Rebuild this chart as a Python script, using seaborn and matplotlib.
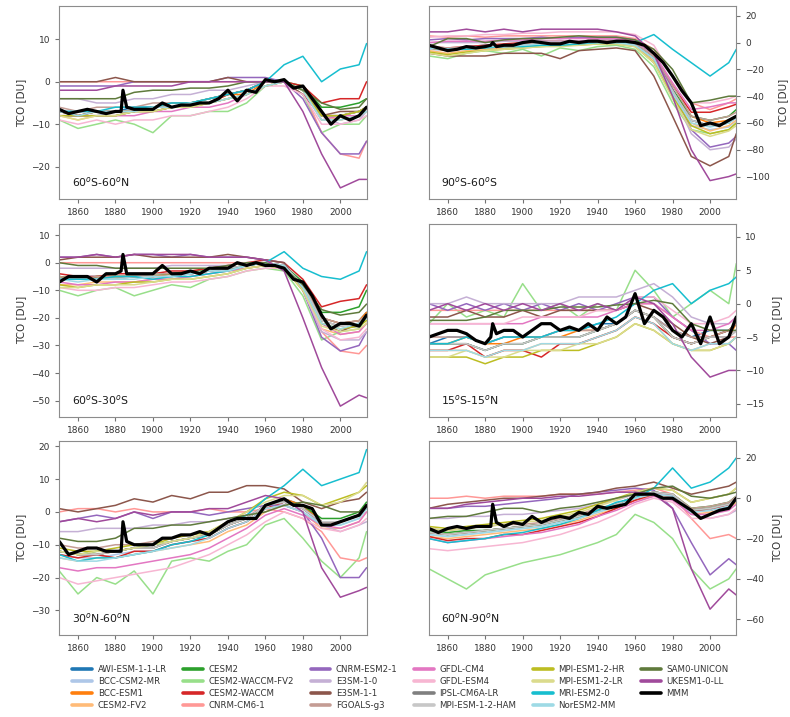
import matplotlib
matplotlib.use("Agg")
import matplotlib.pyplot as plt
import matplotlib.lines as mlines
import seaborn as sns
import pandas as pd

# model names, in legend order
models = ["AWI-ESM-1-1-LR", "BCC-CSM2-MR", "BCC-ESM1", "CESM2-FV2", "CESM2",
          "CESM2-WACCM-FV2", "CESM2-WACCM", "CNRM-CM6-1", "CNRM-ESM2-1", "E3SM-1-0",
          "E3SM-1-1", "FGOALS-g3", "GFDL-CM4", "GFDL-ESM4", "IPSL-CM6A-LR",
          "MPI-ESM-1-2-HAM", "MPI-ESM1-2-HR", "MPI-ESM1-2-LR", "MRI-ESM2-0", "NorESM2-MM",
          "SAM0-UNICON", "UKESM1-0-LL"]

years = [1850, 1860, 1870, 1880, 1890, 1900, 1910, 1920, 1930,
         1940, 1950, 1960, 1970, 1980, 1990, 2000, 2010, 2014]
# the multi model mean was read on a finer grid
mmm_years = [1850, 1855, 1860, 1865, 1870, 1875, 1880, 1883, 1884, 1886,
             1890, 1895, 1900, 1905, 1910, 1915, 1920, 1925, 1930, 1935,
             1940, 1945, 1950, 1955, 1960, 1965, 1970, 1975, 1980, 1985,
             1990, 1995, 2000, 2005, 2010, 2014]

regions = ["60$^o$S-60$^o$N", "90$^o$S-60$^o$S", "60$^o$S-30$^o$S",
           "15$^o$S-15$^o$N", "30$^o$N-60$^o$N", "60$^o$N-90$^o$N"]

# 60S-60N, one row per model
tco_60s60n = [
    [-7, -7, -7, -7, -6, -6, -5, -5, -4, -3, -2, 0, 0, -2, -8, -8, -7, -6],
    [-8, -8, -8, -7, -7, -6, -6, -5, -5, -4, -3, 0, 0, -2, -9, -9, -8, -7],
    [-7, -8, -7, -7, -7, -6, -5, -5, -5, -3, -3, 0, 0, -2, -8, -8, -7, -6],
    [-8, -9, -8, -8, -7, -7, -6, -6, -5, -4, -3, -1, 0, -2, -8, -9, -8, -6],
    [-7, -8, -7, -7, -7, -6, -6, -5, -4, -3, -2, 0, 0, -1, -6, -6, -5, -4],
    [-9, -11, -10, -9, -10, -12, -8, -8, -7, -7, -5, -1, 0, -3, -12, -10, -10, -8],
    [-7, -8, -7, -7, -7, -6, -6, -5, -5, -3, -2, 0, 0, -1, -5, -4, -4, 0],
    [0, 0, 0, 0, 0, 0, 0, 0, 0, 0, 0, 0, 0, -2, -12, -17, -18, -14],
    [-1, -1, -1, -1, 0, 0, 0, 0, 0, 1, 1, 1, 0, -4, -12, -17, -17, -14],
    [-4, -4, -5, -5, -4, -4, -3, -3, -2, -2, -1, 0, 0, -2, -8, -10, -9, -7],
    [0, 0, 0, 1, 0, 0, 0, 0, 0, 1, 0, 0, 0, -3, -8, -7, -7, -6],
    [-6, -7, -6, -6, -6, -5, -5, -5, -4, -3, -2, 0, 0, -2, -8, -8, -7, -6],
    [-8, -8, -8, -8, -8, -7, -7, -6, -6, -5, -3, -1, 0, -2, -9, -8, -8, -6],
    [-9, -10, -9, -10, -9, -9, -8, -8, -7, -6, -4, -1, -1, -3, -10, -10, -9, -8],
    [-8, -8, -8, -8, -7, -7, -6, -5, -5, -4, -3, -1, 0, -2, -8, -8, -7, -6],
    [-7, -7, -7, -7, -7, -6, -6, -5, -5, -4, -3, -1, 0, -2, -8, -8, -7, -6],
    [-8, -8, -8, -8, -7, -7, -6, -6, -5, -4, -3, -1, 0, -2, -8, -8, -7, -6],
    [-8, -9, -8, -8, -7, -7, -6, -6, -5, -4, -3, -1, 0, -2, -9, -9, -8, -7],
    [-7, -7, -7, -6, -6, -6, -5, -5, -4, -3, -2, 0, 4, 6, 0, 3, 4, 9],
    [-7, -8, -7, -7, -7, -6, -6, -5, -5, -4, -3, -1, 0, -2, -9, -9, -8, -7],
    [-4, -4, -4, -4, -2.5, -2, -2, -1.5, -1.5, -1, 0, 0, 0, -2, -5, -6.5, -6, -4],
    [-2, -2, -2, -1, -1, -1, -1, 0, 0, 0, 0, 0, 0, -7, -17, -25, -23, -23],
]
mmm_60s60n = [-6.5, -7.5, -7, -6.5, -7, -7.5, -7, -7, -2, -6, -6.5, -6.5, -6.5, -5, -6, -5.5,
              -5.5, -5, -5, -4, -2, -4.5, -2, -2.5, 0.5, 0, 0.5, -1.5, -1, -4, -7, -10,
              -8, -9, -8, -6]

# 90S-60S
tco_90s60s = [
    [-3, -5, -3, -2, -2, 0, 1, 0, 1, 1, 2, 0, -10, -35, -58, -62, -60, -55],
    [-5, -6, -5, -4, -3, -2, -1, -1, 0, 0, 0, -2, -15, -40, -62, -65, -63, -58],
    [-4, -6, -4, -3, -2, -1, 0, 0, 0, 1, 1, -1, -12, -36, -55, -60, -58, -55],
    [-6, -8, -6, -5, -4, -3, -2, -2, -1, 0, 0, -2, -14, -38, -60, -66, -62, -58],
    [-4, -5, -4, -3, -2, -1, 0, 0, 0, 1, 1, -1, -12, -35, -55, -58, -55, -50],
    [-10, -12, -8, -6, -8, -5, -10, -4, -6, -3, -2, -5, -18, -45, -65, -68, -65, -60],
    [-3, -4, -3, -2, -1, 0, 1, 1, 1, 2, 2, 0, -10, -32, -52, -52, -48, -46],
    [5, 4, 5, 4, 5, 5, 5, 5, 5, 5, 5, 3, -5, -25, -45, -50, -45, -42],
    [2, 3, 2, 3, 3, 3, 4, 3, 4, 4, 4, 2, -8, -35, -65, -78, -75, -70],
    [0, 0, 0, 0, 1, 1, 1, 1, 1, 2, 2, 0, -10, -38, -68, -80, -78, -72],
    [-8, -10, -10, -10, -8, -8, -8, -12, -6, -5, -4, -6, -25, -55, -85, -92, -85, -68],
    [-3, -4, -3, -3, -2, -1, 0, 0, 0, 1, 1, -1, -10, -32, -55, -58, -55, -52],
    [0, 1, 1, 1, 2, 2, 3, 3, 3, 3, 3, 1, -8, -30, -50, -48, -45, -45],
    [4, 5, 5, 6, 6, 7, 7, 8, 8, 8, 8, 6, -2, -25, -45, -45, -42, -40],
    [-4, -5, -4, -3, -3, -2, -1, -1, 0, 0, 0, -2, -12, -36, -58, -62, -60, -56],
    [-4, -5, -4, -3, -3, -2, -1, -1, 0, 0, 0, -2, -12, -36, -58, -62, -60, -56],
    [-7, -9, -7, -6, -5, -4, -3, -2, -2, -1, -1, -3, -15, -40, -62, -68, -65, -60],
    [-8, -10, -8, -6, -5, -4, -3, -3, -2, -1, -1, -3, -15, -42, -65, -70, -66, -62],
    [-4, -5, -5, -4, -3, -3, -2, -2, -1, 0, 0, 0, 6, -5, -15, -25, -15, -5],
    [-4, -5, -4, -3, -3, -2, -1, -1, 0, 0, 0, -2, -12, -38, -60, -63, -60, -56],
    [-3, 3, 3, 0, 2, 3, 3, 4, 5, 4, 4, 2, -5, -20, -45, -43, -40, -40],
    [8, 8, 10, 8, 10, 8, 10, 10, 10, 10, 8, 5, -8, -40, -80, -103, -100, -98],
]
mmm_90s60s = [-2, -4, -6, -5, -3, -4, -3, -2, 0, -3, -2, -2, 0, 1, 0, -1, -1, 1, 0, 1,
              1, 0, 1, 1, 0, -2, -8, -15, -25, -36, -45, -62, -60, -62, -58, -55]

# 60S-30S
tco_60s30s = [
    [-6, -5, -5, -5, -5, -5, -4, -4, -3, -2, -1, 0, -1, -8, -20, -22, -21, -18],
    [-6, -6, -6, -5, -5, -5, -5, -4, -3, -3, -1, 0, -1, -9, -22, -24, -23, -20],
    [-5, -6, -5, -5, -5, -5, -4, -4, -3, -2, -1, 0, -1, -8, -20, -22, -21, -18],
    [-8, -8, -7, -7, -7, -6, -6, -5, -4, -3, -2, -1, -2, -10, -24, -26, -25, -22],
    [-5, -6, -5, -5, -5, -4, -4, -3, -3, -2, -1, 0, -1, -7, -18, -18, -16, -10],
    [-10, -12, -10, -9, -12, -10, -8, -9, -6, -5, -3, -2, -3, -12, -28, -25, -24, -20],
    [-4, -5, -5, -4, -4, -4, -3, -3, -2, -1, 0, 1, 0, -6, -16, -14, -13, -8],
    [0, 0, 0, 0, 0, 0, 0, 0, 0, 0, 0, 0, -1, -10, -25, -32, -33, -30],
    [2, 2, 3, 2, 3, 3, 2, 3, 2, 2, 2, 1, 0, -10, -27, -32, -30, -25],
    [-2, -2, -2, -2, -2, -2, -1, -1, -1, -1, 0, 0, -1, -10, -25, -28, -28, -25],
    [1, 2, 2, 2, 3, 2, 2, 2, 2, 3, 2, 1, 0, -10, -22, -25, -22, -20],
    [-5, -6, -5, -5, -5, -4, -4, -4, -3, -2, -1, 0, -1, -8, -20, -22, -21, -19],
    [-7, -8, -8, -7, -7, -6, -6, -5, -4, -3, -2, -1, -2, -8, -22, -26, -25, -22],
    [-9, -10, -10, -9, -9, -8, -7, -7, -6, -5, -3, -2, -2, -10, -24, -28, -27, -24],
    [-6, -6, -6, -6, -5, -5, -5, -4, -3, -2, -1, 0, -1, -8, -21, -23, -22, -20],
    [-6, -6, -6, -6, -5, -5, -5, -4, -3, -2, -1, 0, -1, -8, -21, -23, -22, -20],
    [-8, -9, -8, -8, -7, -7, -6, -6, -5, -4, -2, -1, -2, -10, -22, -24, -23, -21],
    [-9, -9, -8, -8, -8, -7, -6, -6, -5, -4, -2, -1, -2, -10, -23, -25, -24, -22],
    [-6, -6, -6, -5, -5, -6, -5, -5, -4, -3, -1, 0, 4, -2, -5, -6, -3, 4],
    [-6, -7, -6, -6, -6, -5, -5, -4, -3, -3, -1, 0, -1, -9, -22, -24, -22, -20],
    [0, -1, -1, -2, -2, -2, -2, -2, -2, -1, 0, 0, -2, -8, -17, -19, -18, -15],
    [2, 2, 3, 2, 3, 3, 3, 3, 2, 2, 2, 1, -3, -20, -38, -52, -48, -49],
]
mmm_60s30s = [-7, -5, -5, -5, -7, -4, -4, -3, 3, -4, -4, -4, -4, -1, -4, -4, -3, -4, -2, -2,
              -2, 0, -1, 0, -1, -1, -2, -6, -7, -12, -19, -24, -22, -22, -23, -19]

# 15S-15N
tco_15s15n = [
    [-6, -5, -5, -6, -5, -5, -5, -4, -4, -3, -3, -1, -2, -4, -5, -4, -4, -3],
    [-6, -6, -6, -7, -6, -6, -5, -5, -5, -4, -3, -1, -2, -5, -6, -5, -5, -4],
    [-6, -6, -5, -6, -6, -5, -5, -5, -4, -4, -3, -1, -2, -5, -6, -5, -5, -3],
    [-7, -7, -7, -8, -7, -7, -6, -6, -6, -5, -4, -2, -3, -6, -7, -6, -6, -5],
    [-6, -6, -6, -7, -6, -6, -5, -5, -5, -4, -3, -1, -2, -5, -6, -5, -4, -3],
    [-3, 0, -2, -1, -2, 3, -1, 0, -2, 0, -1, 5, 2, -2, 0, 2, 0, 6],
    [-7, -7, -6, -8, -7, -7, -8, -6, -6, -5, -4, -2, -3, -5, -6, -5, -4, -3],
    [-1, -1, -1, -1, -1, -1, -1, -1, -1, -1, -1, 0, 0, -2, -4, -5, -5, -5],
    [0, -1, 0, -1, 0, -1, 0, -1, 0, -1, 0, 1, 1, -2, -4, -6, -6, -7],
    [0, 0, 1, 0, 0, 0, 0, 0, 1, 1, 1, 2, 3, 1, -2, -3, -3, -2],
    [-2, -2, -1, -2, -2, -1, -2, -1, -1, -1, -1, 0, -1, -3, -5, -6, -5, -4],
    [-5, -5, -5, -6, -5, -5, -5, -4, -4, -4, -3, -1, -2, -4, -5, -5, -4, -3],
    [-3, -3, -3, -3, -3, -3, -2, -2, -2, -2, -1, 0, 0, -2, -4, -4, -3, -2],
    [-3, -3, -3, -3, -3, -2, -2, -2, -2, -1, -1, 1, 1, -1, -3, -3, -2, -1],
    [-6, -6, -6, -7, -6, -6, -5, -5, -5, -4, -3, -1, -2, -5, -6, -5, -5, -4],
    [-6, -6, -6, -7, -6, -6, -5, -5, -5, -4, -3, -1, -2, -5, -6, -5, -5, -4],
    [-8, -8, -8, -9, -8, -8, -7, -7, -7, -6, -5, -3, -4, -6, -7, -7, -6, -5],
    [-8, -8, -7, -8, -8, -7, -7, -7, -6, -6, -5, -3, -4, -6, -7, -7, -6, -5],
    [-6, -6, -5, -6, -5, -5, -5, -4, -4, -3, -2, 0, 2, 3, 0, 2, 3, 4],
    [-7, -7, -7, -8, -7, -7, -6, -6, -6, -5, -4, -2, -3, -6, -7, -6, -6, -5],
    [-2.5, -2.5, -2.5, -2, -1, -1, -1, -0.5, -0.5, -0.5, -0.2, 0, 0.5, 0, -3, -4, -4, -4],
    [-1, 0, -1, 0, -1, 0, -1, 0, -1, 0, -1, 1, 0, -3, -8, -11, -10, -10],
]
mmm_15s15n = [-5, -4.5, -4, -4, -4.5, -5.5, -6, -5, -3, -4.5, -4, -4, -5, -4, -3, -3,
              -4, -3.5, -4, -3, -4, -2, -3, -2, 1.5, -3, -1, -2, -4, -5, -3, -6,
              -2, -6, -5, -2]

# 30N-60N
tco_30n60n = [
    [-12, -13, -13, -12, -11, -11, -9, -8, -7, -4, -2, 2, 4, 2, -3, -3, -1, 2],
    [-13, -14, -14, -13, -12, -12, -10, -9, -8, -5, -3, 1, 3, 1, -4, -4, -2, 1],
    [-12, -13, -13, -12, -11, -11, -9, -8, -7, -4, -2, 2, 4, 2, -3, -3, -1, 2],
    [-14, -15, -14, -14, -13, -12, -11, -10, -9, -6, -4, 0, 2, 0, -5, -5, -3, 0],
    [-12, -13, -12, -12, -11, -10, -9, -8, -7, -4, -2, 2, 3, 2, -2, -2, 0, 3],
    [-18, -25, -20, -22, -18, -25, -15, -14, -15, -12, -10, -4, -2, -8, -15, -20, -14, -6],
    [-13, -14, -13, -14, -12, -12, -10, -9, -8, -5, -3, 1, 3, 1, -3, -3, -1, 2],
    [0, 1, 1, 0, 1, 0, 0, 0, 1, 0, 0, 1, 0, -2, -6, -14, -15, -14],
    [-3, -2, -1, -2, 0, -2, 0, 0, -1, 0, 1, 2, 2, 0, -8, -20, -20, -17],
    [-6, -6, -5, -5, -5, -4, -4, -3, -3, -2, -1, 1, 2, 0, -4, -6, -4, -3],
    [1, 0, 1, 2, 4, 3, 5, 4, 6, 6, 8, 8, 7, 3, 1, 3, 4, 6],
    [-10, -11, -11, -10, -10, -9, -8, -7, -6, -4, -2, 2, 3, 1, -3, -3, -1, 1],
    [-17, -18, -17, -17, -16, -15, -14, -13, -11, -8, -5, -1, 1, -1, -4, -5, -3, 0],
    [-20, -22, -21, -20, -19, -18, -17, -15, -13, -10, -7, -3, 0, -2, -5, -6, -4, -2],
    [-12, -13, -13, -12, -11, -11, -9, -8, -7, -4, -2, 2, 3, 1, -3, -3, -1, 2],
    [-12, -13, -13, -12, -11, -11, -9, -8, -7, -4, -2, 2, 3, 1, -3, -3, -1, 2],
    [-11, -12, -12, -11, -10, -10, -8, -7, -6, -3, 0, 4, 6, 5, 2, 4, 6, 8],
    [-12, -13, -12, -12, -11, -10, -9, -8, -6, -3, 0, 3, 5, 5, 2, 3, 6, 9],
    [-13, -15, -14, -14, -13, -12, -10, -9, -7, -3, -1, 4, 8, 13, 8, 10, 12, 19],
    [-14, -15, -15, -14, -13, -12, -11, -10, -8, -5, -3, 1, 2, 0, -4, -4, -2, 1],
    [-8, -9, -9, -8, -5, -5, -4, -4, -3, -2, -1, 0, 2, 3, 2, 0, 0, 2],
    [-3, -2, -3, -2, 0, -1, 0, 0, 1, 1, 3, 5, 4, 0, -17, -26, -24, -23],
]
mmm_30n60n = [-9, -13, -12, -11, -11, -12, -12, -12, -3, -9, -10, -10, -10, -8, -8, -7,
              -7, -6, -7, -5, -3, -2, -2, -2, 2, 3, 4, 2, 2, 1, -4, -4, -3, -2, -1, 2]

# 60N-90N
tco_60n90n = [
    [-17, -18, -17, -16, -15, -14, -13, -11, -9, -6, -3, 1, 3, 2, -6, -5, -3, 0],
    [-18, -19, -18, -17, -16, -15, -14, -12, -10, -7, -4, 0, 2, 1, -7, -6, -4, -1],
    [-17, -18, -17, -16, -15, -14, -13, -11, -9, -6, -3, 1, 3, 2, -6, -5, -3, 0],
    [-19, -20, -19, -18, -17, -16, -15, -13, -11, -8, -5, -1, 1, 0, -8, -7, -5, -2],
    [-16, -17, -16, -16, -15, -14, -13, -11, -9, -6, -3, 1, 3, 2, -5, -4, -2, 1],
    [-35, -40, -45, -38, -35, -32, -30, -28, -25, -22, -18, -8, -12, -20, -35, -45, -40, -35],
    [-19, -21, -20, -20, -18, -18, -16, -14, -12, -9, -5, -1, 2, 1, -6, -6, -3, 0],
    [0, 0, 1, 0, 1, 1, 1, 2, 2, 2, 3, 4, 5, 2, -10, -20, -18, -20],
    [-5, -5, -4, -4, -3, -2, -1, 0, 2, 3, 4, 5, 4, -5, -22, -38, -30, -33],
    [-10, -10, -9, -9, -8, -8, -7, -6, -5, -3, -1, 2, 3, 1, -8, -10, -8, -6],
    [-5, -3, -2, -1, 0, 0, 1, 2, 2, 3, 5, 6, 8, 5, 2, 4, 6, 8],
    [-15, -16, -15, -14, -13, -13, -12, -10, -8, -5, -3, 1, 3, 2, -5, -4, -2, 1],
    [-20, -22, -21, -20, -19, -18, -17, -15, -13, -9, -6, -2, 1, -1, -8, -8, -6, -3],
    [-25, -26, -25, -24, -23, -22, -20, -18, -15, -12, -8, -3, 0, -2, -10, -10, -8, -5],
    [-17, -18, -17, -16, -15, -14, -13, -11, -9, -6, -3, 1, 3, 2, -6, -5, -3, 0],
    [-17, -18, -17, -16, -15, -14, -13, -11, -9, -6, -3, 1, 3, 2, -6, -5, -3, 0],
    [-14, -15, -14, -13, -12, -11, -10, -8, -6, -3, 0, 3, 5, 4, -2, 0, 2, 5],
    [-15, -16, -15, -14, -13, -12, -11, -9, -7, -4, -1, 3, 5, 4, -2, 0, 2, 5],
    [-20, -22, -21, -20, -18, -17, -15, -13, -10, -6, -2, 0, 5, 15, 5, 8, 15, 20],
    [-18, -19, -18, -17, -16, -15, -14, -12, -10, -7, -4, 0, 2, 1, -7, -6, -4, -1],
    [-10, -9, -9, -7, -5, -5, -7, -5, -4, -2, 0, 2, 5, 6, 1, 0, 2, 3],
    [-5, -5, -3, -2, -1, 0, 0, 1, 1, 2, 3, 3, 2, -5, -35, -55, -45, -48],
]
mmm_60n90n = [-15, -17, -15, -14, -15, -14, -14, -14, -3, -12, -14, -12, -13, -9, -12, -10,
              -9, -10, -7, -8, -4, -5, -4, -3, 2, 2, 2, 0, 0, -3, -6, -10, -8, -6, -5, 0]

panel_data = [tco_60s60n, tco_90s60s, tco_60s30s, tco_15s15n, tco_30n60n, tco_60n90n]
panel_mmm = [mmm_60s60n, mmm_90s60s, mmm_60s30s, mmm_15s15n, mmm_30n60n, mmm_60n90n]
panel_ylims = [(-27.7, 17.9), (-117, 27.5), (-56, 14.2), (-17, 12), (-37.5, 21.5), (-67.8, 28.2)]

colors = sns.color_palette("tab20", 20) + ["#5f7a3c", "#a04a9b"]
palette = dict(zip(models, colors))

sns.set_style("white")
plt.rcParams.update({
    "axes.edgecolor": "0.55",
    "xtick.color": "0.45",
    "ytick.color": "0.45",
    "xtick.labelcolor": "0.2",
    "ytick.labelcolor": "0.2",
    "xtick.bottom": True,
    "ytick.left": True,
    "xtick.major.size": 3,
    "ytick.major.size": 3,
})
plt.rcParams["font.family"] = ["DejaVu Sans"]

fig, axes = plt.subplots(3, 2, figsize=(7.9, 7.17), dpi=100)
fig.subplots_adjust(left=0.075, right=0.932, bottom=0.1144, top=0.992, wspace=0.203, hspace=0.125)

for i, ax in enumerate(axes.flat):
    rows = []
    for name, vals in zip(models, panel_data[i]):
        for yr, v in zip(years, vals):
            rows.append((name, yr, v))
    df = pd.DataFrame(rows, columns=["model", "year", "tco"])
    sns.lineplot(data=df, x="year", y="tco", hue="model", hue_order=models,
                 palette=palette, lw=1.1, legend=False, ax=ax)
    sns.lineplot(x=mmm_years, y=panel_mmm[i], color="black", lw=2.3, ax=ax)

    ax.set_xlim(1850, 2014)
    ax.set_ylim(*panel_ylims[i])
    ax.set_xticks(range(1860, 2001, 20))
    ax.tick_params(labelsize=6.5, width=0.8)
    ax.set_xlabel("")
    ax.set_ylabel("TCO [DU]", fontsize=7.5, color="0.2")
    if i % 2 == 1:
        ax.yaxis.tick_right()
        ax.yaxis.set_label_position("right")
        ax.yaxis.labelpad = 6
    ax.text(0.04, 0.09, regions[i], transform=ax.transAxes, fontsize=7.8,
            va="center", ha="left", color="0.1")

handles = [mlines.Line2D([], [], color=palette[m], lw=2.6) for m in models]
handles.append(mlines.Line2D([], [], color="black", lw=2.6))
labels = models + ["MMM"]
# legend is filled column by column, four rows
leg = fig.legend(handles, labels, loc="upper center", bbox_to_anchor=(0.507, 0.083),
                 ncol=6, frameon=False, fontsize=6.2, handlelength=2.3,
                 handletextpad=0.65, columnspacing=1.9, labelspacing=0.33)
for t in leg.get_texts():
    t.set_color("0.2")

fig.savefig("out.png", dpi=100)
